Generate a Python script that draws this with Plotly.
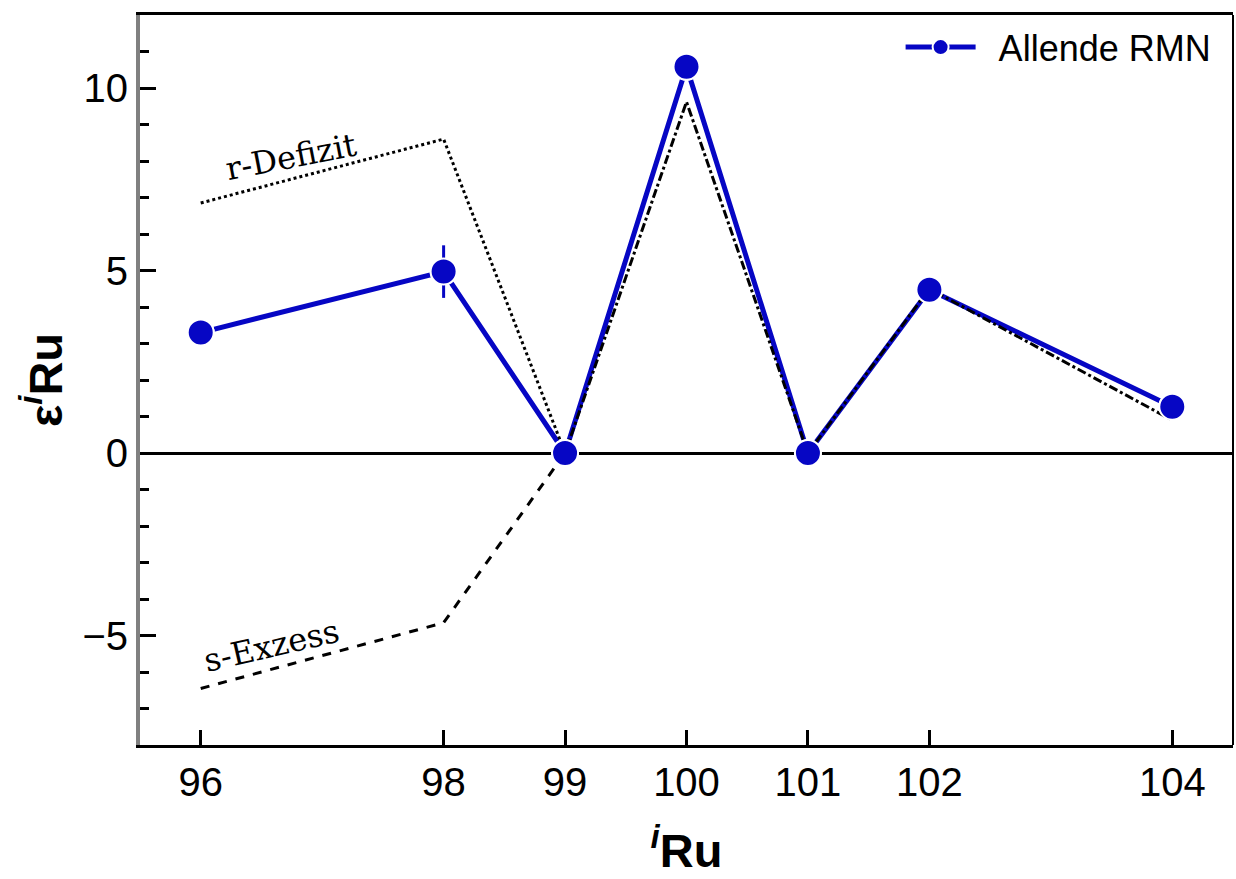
import plotly.graph_objects as go

# Data
isotopes = [96, 98, 99, 100, 101, 102, 104]
allende = [3.3, 4.97, 0.0, 10.58, 0.0, 4.47, 1.27]
allende_err = [0, 0.72, 0, 0, 0, 0, 0]

r_def_x = [96, 98, 99]
r_def_y = [6.85, 8.6, 0.0]

s_exc_x = [96, 98, 99]
s_exc_y = [-6.45, -4.65, 0.0]

model_x = [99, 100, 101, 102, 104]
model_y = [0.0, 9.62, 0.0, 4.5, 0.9]

xtick_vals = [96, 98, 99, 100, 101, 102, 104]
ytick_vals = [-5, 0, 5, 10]
ytick_text = ["\u22125", "0", "5", "10"]

BLUE = "#0606c4"

fig = go.Figure()

# Blue line + markers (legend entry)
fig.add_trace(go.Scatter(
    x=isotopes, y=allende, mode="lines+markers", name="  Allende RMN",
    line=dict(color=BLUE, width=5),
    marker=dict(color=BLUE, size=26, line=dict(color="white", width=2)),
    showlegend=True,
))

# r-deficit (dotted)
fig.add_trace(go.Scatter(
    x=r_def_x, y=r_def_y, mode="lines", showlegend=False,
    line=dict(color="black", width=3, dash="dot"),
))

# s-excess (dashed)
fig.add_trace(go.Scatter(
    x=s_exc_x, y=s_exc_y, mode="lines", showlegend=False,
    line=dict(color="black", width=3, dash="dash"),
))

# model (dash-dot)
fig.add_trace(go.Scatter(
    x=model_x, y=model_y, mode="lines", showlegend=False,
    line=dict(color="black", width=3, dash="dashdot"),
))

# Markers on top with error bars
fig.add_trace(go.Scatter(
    x=isotopes, y=allende, mode="markers", showlegend=False,
    marker=dict(color=BLUE, size=26, line=dict(color="white", width=2)),
    error_y=dict(type="data", array=allende_err, visible=True,
                 color=BLUE, thickness=3, width=0),
))

fig.add_annotation(x=96.74, y=8.1, xref="x", yref="y", text="r-Defizit",
                   showarrow=False, textangle=-11,
                   font=dict(family="DejaVu Serif", size=32, color="black"))
fig.add_annotation(x=96.58, y=-5.3, xref="x", yref="y", text="s-Exzess",
                   showarrow=False, textangle=-13,
                   font=dict(family="DejaVu Serif", size=32, color="black"))

# right border
fig.add_shape(type="line", xref="paper", yref="paper", x0=1, x1=1, y0=0, y1=1,
              line=dict(color="black", width=2))

fig.update_layout(
    width=1236, height=879,
    margin=dict(l=140, r=3, t=15, b=134),
    paper_bgcolor="white", plot_bgcolor="white",
    font=dict(family="Liberation Sans, Arial, sans-serif", color="black"),
    legend=dict(x=0.985, y=0.997, xanchor="right", yanchor="top",
                font=dict(size=36), itemwidth=70, bgcolor="rgba(0,0,0,0)"),
    xaxis=dict(
        range=[95.5, 104.5], tickvals=xtick_vals,
        ticks="inside", ticklen=15, tickwidth=2.5, tickcolor="black",
        showline=True, linecolor="black", linewidth=3, mirror=True,
        showgrid=False, zeroline=False,
        tickfont=dict(size=40),
        title=dict(text="<b><sup><i>i</i></sup>Ru</b>", font=dict(size=47), standoff=32),
    ),
    yaxis=dict(
        range=[-8, 12], tickvals=ytick_vals, ticktext=ytick_text,
        ticks="inside", ticklen=16, tickwidth=3, tickcolor="black",
        minor=dict(dtick=1, tick0=0, ticks="inside", ticklen=9, tickwidth=3, tickcolor="black"),
        showline=True, linecolor="#808080", linewidth=4, mirror=False,
        showgrid=False, zeroline=True, zerolinecolor="black", zerolinewidth=2.5,
        tickfont=dict(size=40),
        title=dict(text="<b>\u03b5<sup><i>i</i></sup>Ru</b>", font=dict(size=47), standoff=6),
    ),
)

fig.write_html("out.html")
